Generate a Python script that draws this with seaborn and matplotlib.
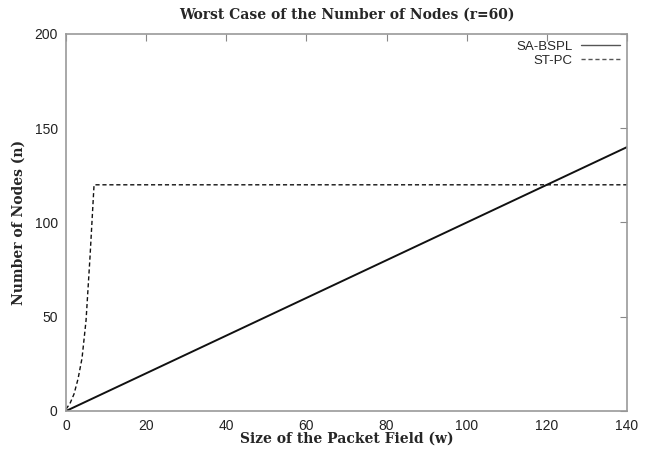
import matplotlib
matplotlib.use("Agg")
import matplotlib.pyplot as plt
import seaborn as sns
import pandas as pd

# SA-BSPL: straight line
sa_w = [0, 20, 40, 60, 80, 100, 120, 140]
sa_n = [0, 20, 40, 60, 80, 100, 120, 140]

# ST-PC: steep rise up to w=7, then flat at 120
st_w = [0, 1, 2, 3, 4, 5, 6, 7, 140]
st_n = [1, 4, 9, 17, 28, 48, 82, 120, 120]

x_ticks = [0, 20, 40, 60, 80, 100, 120, 140]
y_ticks = [0, 50, 100, 150, 200]

sns.set_theme(style="white")
plt.rcParams['font.family'] = ['Liberation Sans', 'DejaVu Sans']

df_sa = pd.DataFrame({'w': sa_w, 'n': sa_n})
df_st = pd.DataFrame({'w': st_w, 'n': st_n})

fig = plt.figure(figsize=(6.52, 4.51), dpi=100)
ax = fig.add_axes([66 / 652, 1 - 411 / 451, (627 - 66) / 652, (411 - 34) / 451])

sns.lineplot(data=df_sa, x='w', y='n', ax=ax, color='#111111', lw=1.4,
             label='SA-BSPL', estimator=None)
sns.lineplot(data=df_st, x='w', y='n', ax=ax, color='#111111', lw=1.0,
             linestyle=(0, (3, 2)), label='ST-PC', estimator=None)

ax.set_xlim(0, 140)
ax.set_ylim(0, 200)
ax.set_xticks(x_ticks)
ax.set_yticks(y_ticks)
ax.tick_params(direction='in', length=5, width=0.8, color='#888888',
               top=True, right=True, labelsize=10, labelcolor='#222222', pad=6)
for sp in ax.spines.values():
    sp.set_color('#999999')
    sp.set_linewidth(1.2)

serif = {'family': 'DejaVu Serif', 'weight': 'bold', 'size': 10}
ax.set_title('Worst Case of the Number of Nodes (r=60)', fontdict=serif, pad=11)
ax.set_xlabel('Size of the Packet Field (w)', fontdict=serif, labelpad=-1)
ax.set_ylabel('Number of Nodes (n)', fontdict=serif, labelpad=6)

leg = ax.legend(loc='upper right', frameon=False, markerfirst=False,
                fontsize=9.5, handlelength=3.0, borderaxespad=0.1,
                labelspacing=0.15, handletextpad=0.6)
for h in leg.get_lines():
    h.set_color('#555555')
    h.set_linewidth(1.0)

fig.savefig('out.png', dpi=100)
